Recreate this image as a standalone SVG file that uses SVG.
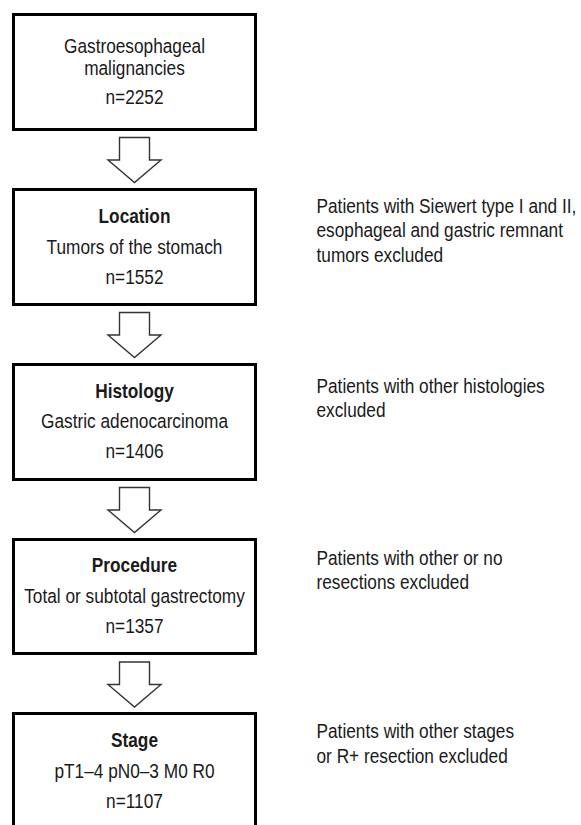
<svg xmlns="http://www.w3.org/2000/svg" width="581" height="825" viewBox="0 0 581 825">
<style>
.box{fill:#fff;stroke:#000;stroke-width:3}
.arr{fill:#fff;stroke:#333;stroke-width:1.4;stroke-linejoin:miter}
text{font-family:"Liberation Sans",Arial,sans-serif;font-size:19.5px;fill:#1a1a1a}
.c{text-anchor:middle}
.b{font-weight:bold}
</style>
<defs>
<path id="down" class="arr" d="M-15,0 H15 V22.5 H26.5 L0,45 L-26.5,22.5 H-15 Z"/>
</defs>
<rect width="581" height="825" fill="#fff"/>
<g id="connectors">
<use href="#down" x="134.5" y="137.5"/>
<use href="#down" x="134.5" y="312.5"/>
<use href="#down" x="134.5" y="487.5"/>
<use href="#down" x="134.5" y="662"/>
</g>
<g id="n1">
<rect class="box" x="13.5" y="14.5" width="242" height="115"/>
<text class="c" transform="translate(134.5,53.3) scale(0.885,1)">Gastroesophageal</text>
<text class="c" transform="translate(134.5,74.5) scale(0.885,1)">malignancies</text>
<text class="c" transform="translate(134.5,104) scale(0.885,1)">n=2252</text>
</g>
<g id="n2">
<rect class="box" x="13.5" y="189.5" width="242" height="115"/>
<text class="c b" transform="translate(134.5,222.7) scale(0.885,1)">Location</text>
<text class="c" transform="translate(134.5,254) scale(0.885,1)">Tumors of the stomach</text>
<text class="c" transform="translate(134.5,284) scale(0.885,1)">n=1552</text>
</g>
<g id="n3">
<rect class="box" x="13.5" y="364.5" width="242" height="115"/>
<text class="c b" transform="translate(134.5,398) scale(0.885,1)">Histology</text>
<text class="c" transform="translate(134.5,428) scale(0.885,1)">Gastric adenocarcinoma</text>
<text class="c" transform="translate(134.5,458) scale(0.885,1)">n=1406</text>
</g>
<g id="n4">
<rect class="box" x="13.5" y="539.5" width="242" height="114"/>
<text class="c b" transform="translate(134.5,572) scale(0.885,1)">Procedure</text>
<text class="c" transform="translate(134.5,603) scale(0.885,1)">Total or subtotal gastrectomy</text>
<text class="c" transform="translate(134.5,633) scale(0.885,1)">n=1357</text>
</g>
<g id="n5">
<rect class="box" x="13.5" y="713.5" width="242" height="120"/>
<text class="c b" transform="translate(134.5,747) scale(0.885,1)">Stage</text>
<text class="c" transform="translate(134.5,778) scale(0.885,1)">pT1–4 pN0–3 M0 R0</text>
<text class="c" transform="translate(134.5,808) scale(0.885,1)">n=1107</text>
</g>
<g id="e1">
<text transform="translate(316.5,212.7) scale(0.885,1)">Patients with Siewert type I and II,</text>
<text transform="translate(316.5,237) scale(0.885,1)">esophageal and gastric remnant</text>
<text transform="translate(316.5,261.5) scale(0.885,1)">tumors excluded</text>
</g>
<g id="e2">
<text transform="translate(316.5,393) scale(0.885,1)">Patients with other histologies</text>
<text transform="translate(316.5,417.3) scale(0.885,1)">excluded</text>
</g>
<g id="e3">
<text transform="translate(316.5,564.5) scale(0.885,1)">Patients with other or no</text>
<text transform="translate(316.5,588.5) scale(0.885,1)">resections excluded</text>
</g>
<g id="e4">
<text transform="translate(316.5,737.5) scale(0.885,1)">Patients with other stages</text>
<text transform="translate(316.5,762.5) scale(0.885,1)">or R+ resection excluded</text>
</g>
</svg>
